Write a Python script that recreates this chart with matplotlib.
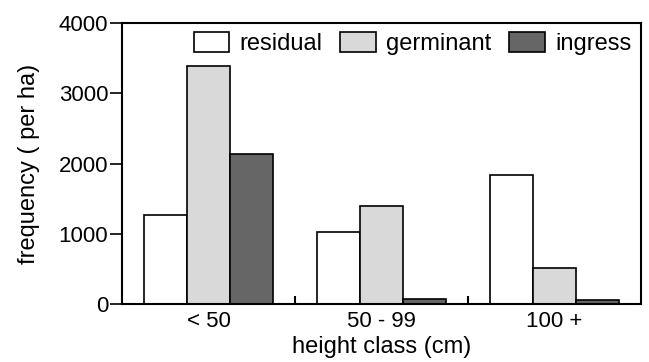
import numpy as np
import matplotlib.pyplot as plt

plt.rcParams['font.family'] = ['Liberation Sans', 'DejaVu Sans']

classes = ['< 50', '50 - 99', '100 +']
series = ['residual', 'germinant', 'ingress']
residual = [1270, 1030, 1830]
germinant = [3390, 1400, 515]
ingress = [2130, 65, 50]
colors = ['white', '#d9d9d9', '#666666']

fig = plt.figure(figsize=(6.49, 3.62), dpi=100)
ax = fig.add_axes([122 / 649, 1 - 304 / 362, 519 / 649, 281 / 362])

x = np.arange(len(classes))
w = 0.25
for i, (vals, name) in enumerate(zip([residual, germinant, ingress], series)):
    ax.bar(x + (i - 1) * w, vals, w, color=colors[i], edgecolor='black',
           linewidth=1.2, label=name)

ax.set_xlim(-0.5, 2.5)
ax.set_ylim(0, 4000)
ax.set_yticks([0, 1000, 2000, 3000, 4000])
ax.set_xticks(x)
ax.set_xticklabels(classes)
ax.set_xticks([0.5, 1.5], minor=True)
ax.tick_params(axis='x', which='major', length=0, labelsize=16, pad=5)
ax.tick_params(axis='x', which='minor', direction='in', length=6, width=1.5)
ax.tick_params(axis='y', direction='out', length=9, width=1.2, labelsize=16, pad=1)
for s in ax.spines.values():
    s.set_linewidth(1.5)

ax.set_xlabel('height class (cm)', fontsize=17, labelpad=3)
ax.set_ylabel('frequency ( per ha)', fontsize=17, labelpad=13)

ax.legend(loc='upper right', ncol=3, frameon=False, fontsize=17,
          handlelength=1.5, handleheight=0.9, columnspacing=0.75,
          handletextpad=0.45, borderaxespad=0.2, borderpad=0.2)

fig.savefig('out.png', dpi=100)
